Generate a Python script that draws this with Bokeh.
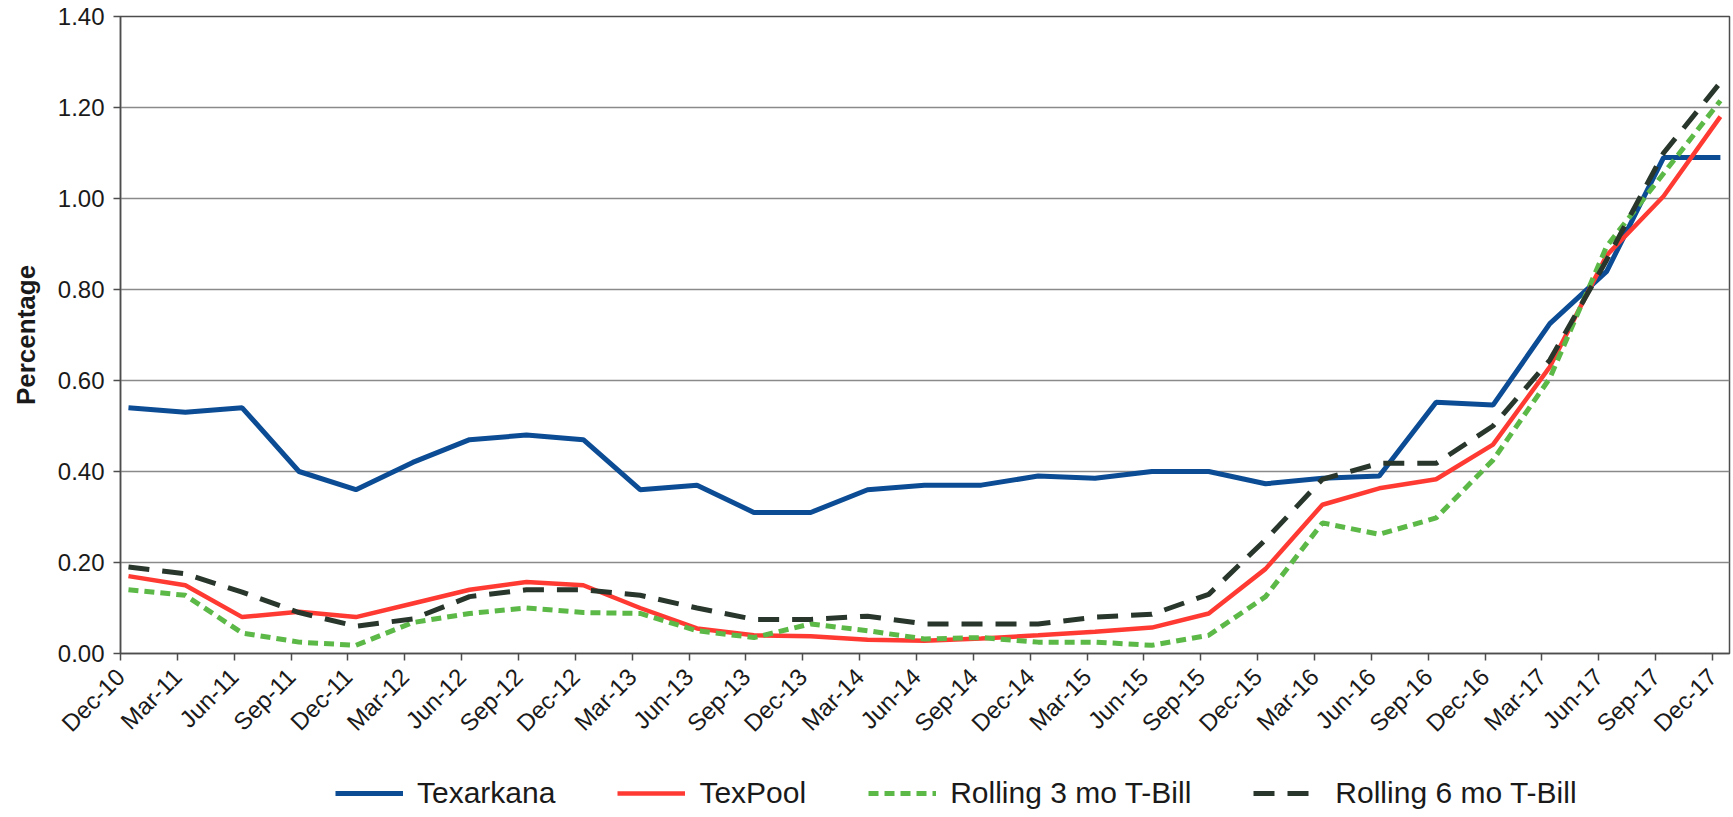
from bokeh.plotting import figure
from bokeh.layouts import column
from bokeh.models import FixedTicker, Legend, LegendItem, NumeralTickFormatter, Range1d
from bokeh.embed import file_html
from bokeh.resources import INLINE
import math

quarters = ["Dec-10", "Mar-11", "Jun-11", "Sep-11", "Dec-11", "Mar-12", "Jun-12", "Sep-12",
            "Dec-12", "Mar-13", "Jun-13", "Sep-13", "Dec-13", "Mar-14", "Jun-14", "Sep-14",
            "Dec-14", "Mar-15", "Jun-15", "Sep-15", "Dec-15", "Mar-16", "Jun-16", "Sep-16",
            "Dec-16", "Mar-17", "Jun-17", "Sep-17", "Dec-17"]

texarkana = [0.54, 0.53, 0.54, 0.40, 0.36, 0.42, 0.47, 0.48, 0.47, 0.36, 0.37, 0.31, 0.31,
             0.36, 0.37, 0.37, 0.39, 0.385, 0.40, 0.40, 0.373, 0.385, 0.39, 0.552, 0.546,
             0.725, 0.84, 1.09, 1.09]
texpool = [0.17, 0.15, 0.08, 0.092, 0.08, 0.11, 0.14, 0.157, 0.15, 0.10, 0.055, 0.04, 0.038,
           0.03, 0.028, 0.033, 0.04, 0.048, 0.057, 0.088, 0.186, 0.327, 0.363, 0.383, 0.459,
           0.63, 0.875, 1.005, 1.18]
tbill_3mo = [0.14, 0.128, 0.045, 0.025, 0.018, 0.068, 0.088, 0.10, 0.09, 0.088, 0.05, 0.035,
             0.065, 0.05, 0.032, 0.035, 0.025, 0.025, 0.018, 0.04, 0.125, 0.287, 0.262, 0.298,
             0.425, 0.605, 0.895, 1.055, 1.215]
tbill_6mo = [0.19, 0.175, 0.135, 0.09, 0.06, 0.076, 0.125, 0.14, 0.14, 0.128, 0.10, 0.075,
             0.075, 0.082, 0.065, 0.065, 0.065, 0.08, 0.086, 0.13, 0.25, 0.383, 0.418, 0.418,
             0.50, 0.645, 0.865, 1.10, 1.255]

series_names = ["Texarkana", "TexPool", "Rolling 3 mo T-Bill", "Rolling 6 mo T-Bill"]
series_values = [texarkana, texpool, tbill_3mo, tbill_6mo]
styles = [dict(line_color="#0b4c95", line_width=5),
          dict(line_color="#ff3a33", line_width=4.5),
          dict(line_color="#5cb947", line_width=5, line_dash="10 6"),
          dict(line_color="#28362b", line_width=5, line_dash="21 13")]

x = list(range(len(quarters)))
font = "Liberation Sans"

p = figure(width=1731, height=762, output_backend="svg", toolbar_location=None,
           x_range=Range1d(-0.14, 28.16), y_range=Range1d(0, 1.4),
           min_border_left=120, min_border_top=16, min_border_right=2, min_border_bottom=109)
p.background_fill_color = "white"
p.border_fill_color = "white"
p.outline_line_color = "#4d4d4d"
p.outline_line_width = 1.5

for vals, st in zip(series_values, styles):
    p.line(x, vals, **st)

tick_pos = [i - 0.14 for i in x]
p.xaxis.ticker = FixedTicker(ticks=tick_pos)
p.xaxis.major_label_overrides = {t: q for t, q in zip(tick_pos, quarters)}
p.xaxis.major_label_orientation = math.pi / 4
p.xaxis.major_label_text_font = font
p.xaxis.major_label_text_font_size = "24px"
p.xaxis.major_label_text_color = "#1a1a1a"
p.xaxis.major_tick_out = 7
p.xaxis.major_tick_in = 0
p.xaxis.minor_tick_line_color = None
p.xaxis.axis_line_color = "#4d4d4d"
p.xaxis.axis_line_width = 1.5
p.xaxis.major_tick_line_color = "#4d4d4d"
p.xaxis.major_tick_line_width = 1.5
p.xaxis.major_label_standoff = 12

p.yaxis.ticker = FixedTicker(ticks=[0, 0.2, 0.4, 0.6, 0.8, 1.0, 1.2, 1.4])
p.yaxis.formatter = NumeralTickFormatter(format="0.00")
p.yaxis.major_label_text_font = font
p.yaxis.major_label_text_font_size = "24px"
p.yaxis.major_label_text_color = "#1a1a1a"
p.yaxis.major_tick_out = 7
p.yaxis.major_tick_in = 0
p.yaxis.minor_tick_line_color = None
p.yaxis.axis_line_color = "#4d4d4d"
p.yaxis.axis_line_width = 1.5
p.yaxis.major_tick_line_color = "#4d4d4d"
p.yaxis.major_tick_line_width = 1.5
p.yaxis.major_label_standoff = 9
p.yaxis.axis_label = "Percentage"
p.yaxis.axis_label_text_font = font
p.yaxis.axis_label_text_font_style = "bold"
p.yaxis.axis_label_text_font_size = "26px"
p.yaxis.axis_label_text_color = "#1a1a1a"
p.yaxis.axis_label_standoff = 14

p.xgrid.grid_line_color = None
p.ygrid.ticker = FixedTicker(ticks=[0.2, 0.4, 0.6, 0.8, 1.0, 1.2])
p.ygrid.grid_line_color = "#8a8a8a"
p.ygrid.grid_line_width = 1.5

# legend strip below the chart (series drawn out of view as legend proxies)
pl = figure(width=1731, height=48, output_backend="svg", toolbar_location=None,
            x_range=Range1d(-0.14, 28.16), y_range=Range1d(5, 6),
            min_border_left=0, min_border_right=0, min_border_top=0, min_border_bottom=0)
pl.axis.visible = False
pl.grid.grid_line_color = None
pl.outline_line_color = None
pl.border_fill_color = "white"
proxies = [pl.line(x, vals, **st) for vals, st in zip(series_values, styles)]

legend = Legend(items=[LegendItem(label=n, renderers=[r]) for n, r in zip(series_names, proxies)],
                orientation="horizontal", location=(215, 0),
                label_text_font=font, label_text_font_size="30px", label_text_color="#1a1a1a",
                glyph_width=68, glyph_height=28, label_height=28, label_standoff=14, spacing=62,
                padding=0, margin=0, border_line_color=None, background_fill_alpha=0)
pl.add_layout(legend, "center")

layout = column(p, pl, spacing=0)
open("out.html", "w").write(file_html(layout, INLINE))
